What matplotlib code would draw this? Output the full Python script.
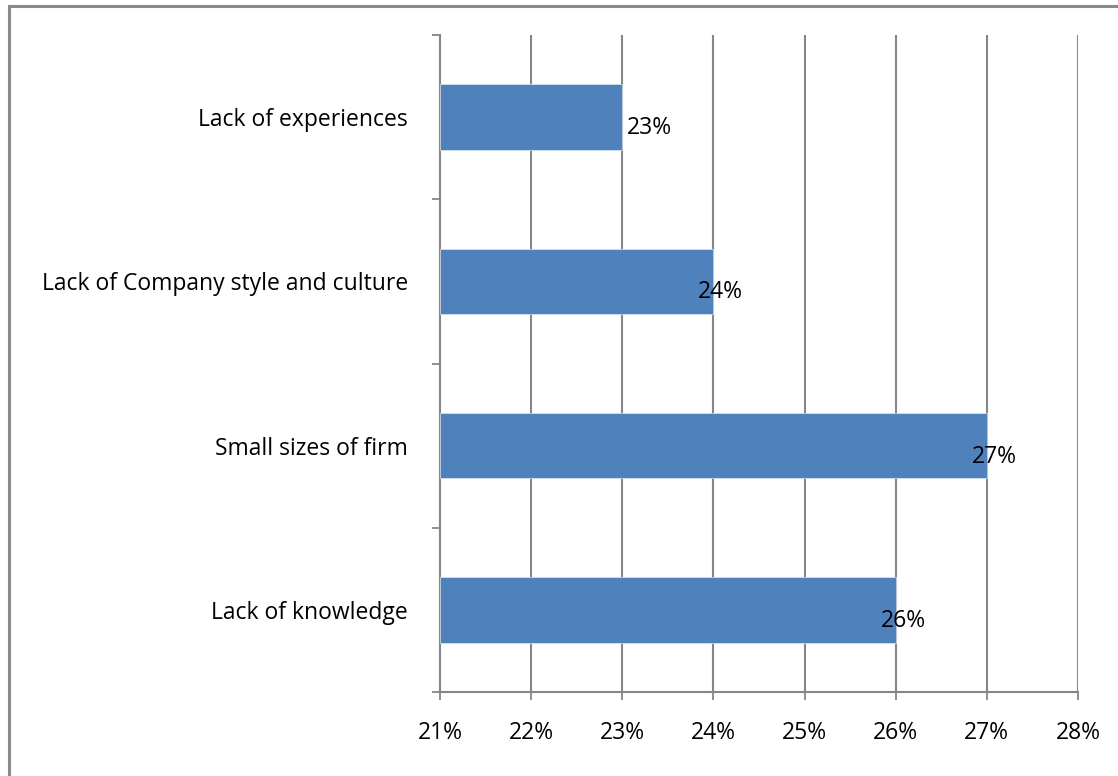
import matplotlib
matplotlib.use("Agg")
import matplotlib.pyplot as plt
from matplotlib.lines import Line2D
from matplotlib.ticker import FixedLocator

plt.rcParams['font.family'] = ['Open Sans', 'DejaVu Sans']

# Survey results (share of respondents, %)
categories = ["Lack of knowledge", "Small sizes of firm",
              "Lack of Company style and culture", "Lack of experiences"]
values = [26, 27, 24, 23]
x_ticks = [21, 22, 23, 24, 25, 26, 27, 28]
x_tick_labels = [f"{t}%" for t in x_ticks]

W, H, DPI = 1118, 776, 100
fig = plt.figure(figsize=(W / DPI, H / DPI), dpi=DPI)
ax = fig.add_axes([440 / W, 1 - 692 / H, (1078 - 440) / W, (692 - 35) / H])

grid_c = "#868686"
bar_c = "#4F81BD"
base = x_ticks[0]
fs = 16.5

ypos = list(range(len(categories)))
ax.barh(ypos, [v - base for v in values], left=base, height=0.4,
        color=bar_c, edgecolor="#dfe6f0", linewidth=0.5, zorder=3)

ax.set_xlim(x_ticks[0], x_ticks[-1])
ax.set_ylim(-0.5, len(categories) - 0.5)

ax.set_xticks(x_ticks)
ax.set_xticklabels(x_tick_labels, fontsize=fs)
ax.tick_params(axis="x", length=6, width=1.3, color=grid_c, pad=15)

ax.set_yticks(ypos)
ax.set_yticklabels(categories, fontsize=fs)
ax.tick_params(axis="y", which="major", length=0, pad=23)
ax.yaxis.set_minor_locator(FixedLocator([i - 0.5 for i in range(len(categories) + 1)]))
ax.tick_params(axis="y", which="minor", length=6, width=1.3, color=grid_c)

for x in x_ticks[1:]:
    ax.axvline(x, color=grid_c, linewidth=1.5, zorder=1)

for side in ("top", "right"):
    ax.spines[side].set_visible(False)
for side in ("left", "bottom"):
    ax.spines[side].set_color(grid_c)
    ax.spines[side].set_linewidth(1.5)

# value labels at the bar ends
for y, v in zip(ypos, values):
    dx = 3 if v == min(values) else -11
    ax.annotate(f"{v}%", xy=(v, y), xytext=(dx, -8), textcoords="offset points",
                ha="left", va="center", fontsize=fs, color="black", zorder=4)

# outer frame
fig.add_artist(Line2D([9 / W, 9 / W], [0, 1 - 6 / H], transform=fig.transFigure,
                      color="#8a8a8a", linewidth=2.2))
fig.add_artist(Line2D([9 / W, 1], [1 - 6 / H, 1 - 6 / H], transform=fig.transFigure,
                      color="#8a8a8a", linewidth=2.2))

fig.savefig("out.png", dpi=DPI, facecolor="white")
